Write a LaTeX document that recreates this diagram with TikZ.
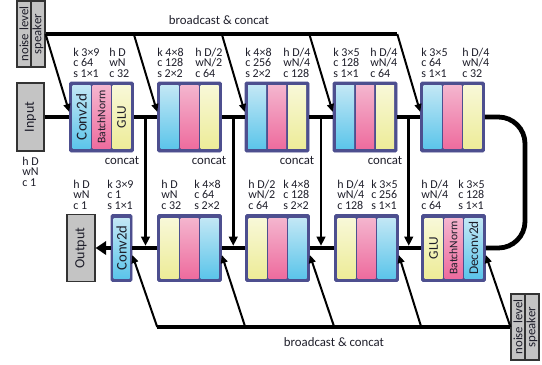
\documentclass[tikz,border=0pt]{standalone}
\usepackage{fontspec}
\setmainfont{Carlito}
\usetikzlibrary{arrows.meta,calc}
\definecolor{bord}{HTML}{4D4F8F}
\definecolor{bluT}{HTML}{C2E7F5}
\definecolor{bluB}{HTML}{5CC5EA}
\definecolor{pnkT}{HTML}{F4B5CE}
\definecolor{pnkB}{HTML}{EE6C9E}
\definecolor{yelT}{HTML}{F8F8D8}
\definecolor{yelB}{HTML}{EDEC98}
\definecolor{gbx}{HTML}{C4C4C4}
\definecolor{txt}{HTML}{1E1E2A}
\newcommand\bnfont{\fontsize{8.7}{9}\selectfont}
\newcommand\cvfont{\fontsize{11.3}{12}\selectfont}
\newcommand\mkblk[9]{%
  \node[blk,#3] (#1) at (#2) {};
  \node[strip,#3s,top color=#4T,bottom color=#4B] (#1a) at ($(#1)+(-20,0)$) {};
  \node[strip,#3s,top color=#5T,bottom color=#5B] (#1b) at (#1) {};
  \node[strip,#3s,top color=#6T,bottom color=#6B] (#1c) at ($(#1)+(20,0)$) {};
  \node[vt] (#1ta) at (#1a) {#7};
  \node[vt] (#1tb) at (#1b) {#8};
  \node[vt] (#1tc) at (#1c) {#9};
}
\tikzset{
  blk/.style={fill=bord, draw=bord, line width=0.4pt, rounded corners=1pt, minimum width=48pt, inner sep=0pt},
  blkT/.style={minimum height=52.5pt},
  blkTs/.style={minimum height=47.25pt},
  blkB/.style={minimum height=50.25pt},
  blkBs/.style={minimum height=45pt},
  strip/.style={minimum width=13.5pt, inner sep=0pt},
  vt/.style={rotate=90, inner sep=0pt, text=txt, font=\fontsize{10}{11}\selectfont},
  gbox/.style={draw=black!80, line width=0.8pt, fill=gbx, inner sep=0pt},
  lbl/.style={anchor=north west, inner sep=0pt, align=left, text=txt, font=\fontsize{9}{7.7}\selectfont},
  ctxt/.style={inner sep=0pt, text=txt, font=\fontsize{9.6}{10}\selectfont},
  bus/.style={line width=3.6pt},
  bcast/.style={line width=3pt},
  diag/.style={line width=1.5pt, -{Triangle[length=6pt,width=5pt]}},
  vline/.style={line width=1.9pt, -{Triangle[length=7pt,width=6.5pt]}, shorten >=1.6pt},
}
\begin{document}
\begin{tikzpicture}[x=0.75pt,y=-0.75pt]
\useasboundingbox (0,0) rectangle (542,364);
% side boxes
\node[gbox, minimum width=10.5pt, minimum height=49.5pt] (nzA) at (24,34) {};
\node[gbox, minimum width=10.5pt, minimum height=49.5pt] (nzB) at (38,34) {};
\node[vt, font=\fontsize{9.6}{10}\selectfont] (nzAt) at (nzA) {noise level};
\node[vt, font=\fontsize{9.6}{10}\selectfont] (nzBt) at (nzB) {speaker};
\node[gbox, minimum width=10.5pt, minimum height=49.5pt] (nzcA) at (518,327) {};
\node[gbox, minimum width=10.5pt, minimum height=49.5pt] (nzcB) at (532,327) {};
\node[vt, font=\fontsize{9.6}{10}\selectfont] (nzcAt) at (nzcA) {noise level};
\node[vt, font=\fontsize{9.6}{10}\selectfont] (nzcBt) at (nzcB) {speaker};
\node[gbox, minimum width=20.25pt, minimum height=51pt] (inp) at (30.5,117) {};
\node[vt, font=\fontsize{10.5}{11}\selectfont] (inpt) at (inp) {Input};
\node[gbox, minimum width=21pt, minimum height=50.25pt] (out) at (81,248) {};
\node[vt, font=\fontsize{10.5}{11}\selectfont] (outt) at (out) {Output};
% encoder blocks
\mkblk{b1}{101.5,117}{blkT}{blu}{pnk}{yel}{\cvfont Conv2d}{\bnfont BatchNorm}{GLU}
\mkblk{b2}{189.5,117}{blkT}{blu}{pnk}{yel}{}{}{}
\mkblk{b3}{277,117}{blkT}{blu}{pnk}{yel}{}{}{}
\mkblk{b4}{365,117}{blkT}{blu}{pnk}{yel}{}{}{}
\mkblk{b5}{452.5,117}{blkT}{blu}{pnk}{yel}{}{}{}
% decoder blocks
\node[blk, blkB, minimum width=15.75pt] (c1) at (121.5,248) {};
\node[strip, blkBs, minimum width=12pt, top color=bluT, bottom color=bluB] (c1a) at (c1) {};
\node[vt, font=\fontsize{11}{12}\selectfont] (c1t) at (c1a) {Conv2d};
\mkblk{d2}{189.5,248}{blkB}{yel}{pnk}{blu}{}{}{}
\mkblk{d3}{277.5,248}{blkB}{yel}{pnk}{blu}{}{}{}
\mkblk{d4}{366.5,248}{blkB}{yel}{pnk}{blu}{}{}{}
\mkblk{d5}{453.5,248}{blkB}{yel}{pnk}{blu}{GLU}{\bnfont BatchNorm}{Deconv2d}
% coordinate for right loop
\coordinate (rc) at (525,0);
% main data path
\draw[bus] (inp.east) -- (b1.west);
\draw[bus] (b1.east) -- (b2.west);
\draw[bus] (b2.east) -- (b3.west);
\draw[bus] (b3.east) -- (b4.west);
\draw[bus] (b4.east) -- (b5.west);
\draw[bus, rounded corners=20pt] (b5.east) -- (b5.east -| rc) -- (d5.east -| rc) -- (d5.east);
\draw[bus] (d5.west) -- (d4.east);
\draw[bus] (d4.west) -- (d3.east);
\draw[bus] (d3.west) -- (d2.east);
\draw[bus] (d2.west) -- (c1.east);
\draw[bus, -{Triangle[length=8pt,width=10pt]}] (c1.west) -- (out.east);
% concat (skip) arrows
\coordinate (v1) at ($(b1.east)!0.5!(b2.west)$);
\coordinate (v2) at ($(b2.east)!0.5!(b3.west)$);
\coordinate (v3) at ($(b3.east)!0.5!(b4.west)$);
\coordinate (v4) at ($(b4.east)!0.5!(b5.west)$);
\draw[vline] (v1) -- (v1 |- c1.east);
\draw[vline] (v2) -- (v2 |- c1.east);
\draw[vline] (v3) -- (v3 |- c1.east);
\draw[vline] (v4) -- (v4 |- c1.east);
\node[ctxt] (cc1) at (122,160) {concat};
\node[ctxt] (cc2) at (209,160) {concat};
\node[ctxt] (cc3) at (297,160) {concat};
\node[ctxt] (cc4) at (385,160) {concat};
% top broadcast
\draw[bcast] (nzB.east) -- (b4.east |- nzB.east);
\draw[diag] (nzB.east) -- ($(b1.west)+(0,-5)$);
\draw[diag] (b1.east |- nzB.east) -- ($(b2.west)+(0,-5)$);
\draw[diag] (b2.east |- nzB.east) -- ($(b3.west)+(0,-5)$);
\draw[diag] (b3.east |- nzB.east) -- ($(b4.west)+(0,-5)$);
\draw[diag] (b4.east |- nzB.east) -- ($(b5.west)+(0,-5)$);
\node[ctxt] (bct) at (219,20) {broadcast \& concat};
% bottom broadcast
\draw[bcast] (d2.west |- nzcA.west) -- (nzcA.west);
\draw[diag] (d2.west |- nzcA.west) -- ($(c1.east)+(0,7)$);
\draw[diag] (d3.west |- nzcA.west) -- ($(d2.east)+(0,7)$);
\draw[diag] (d4.west |- nzcA.west) -- ($(d3.east)+(0,7)$);
\draw[diag] (d5.west |- nzcA.west) -- ($(d4.east)+(0,7)$);
\draw[diag] (nzcA.west) -- ($(d5.east)+(0,7)$);
\node[ctxt] (bcb) at (334,342) {broadcast \& concat};
% encoder labels
\node[lbl] (l1) at (73,48) {k 3×9\\c 64\\s 1×1};
\node[lbl] (l2) at (109,48) {h D\\wN\\c 32};
\node[lbl] (l3) at (157,48) {k 4×8\\c 128\\s 2×2};
\node[lbl] (l4) at (195,48) {h D/2\\wN/2\\c 64};
\node[lbl] (l5) at (245,48) {k 4×8\\c 256\\s 2×2};
\node[lbl] (l6) at (283,48) {h D/4\\wN/4\\c 128};
\node[lbl] (l7) at (333,48) {k 3×5\\c 128\\s 1×1};
\node[lbl] (l8) at (370,48) {h D/4\\wN/4\\c 64};
\node[lbl] (l9) at (421,48) {k 3×5\\c 64\\s 1×1};
\node[lbl] (l10) at (462,48) {h D/4\\wN/4\\c 32};
\node[lbl] (li) at (22,157) {h D\\wN\\c 1};
% decoder labels
\node[lbl] (m1) at (73,180) {h D\\wN\\c 1};
\node[lbl] (m2) at (107,180) {k 3×9\\c 1\\s 1×1};
\node[lbl] (m3) at (161,180) {h D\\wN\\c 32};
\node[lbl] (m4) at (194,180) {k 4×8\\c 64\\s 2×2};
\node[lbl] (m5) at (248,180) {h D/2\\wN/2\\c 64};
\node[lbl] (m6) at (283,180) {k 4×8\\c 128\\s 2×2};
\node[lbl] (m7) at (337,180) {h D/4\\wN/4\\c 128};
\node[lbl] (m8) at (371,180) {k 3×5\\c 256\\s 1×1};
\node[lbl] (m9) at (421,180) {h D/4\\wN/4\\c 64};
\node[lbl] (m10) at (458,180) {k 3×5\\c 128\\s 1×1};
\end{tikzpicture}
\end{document}
